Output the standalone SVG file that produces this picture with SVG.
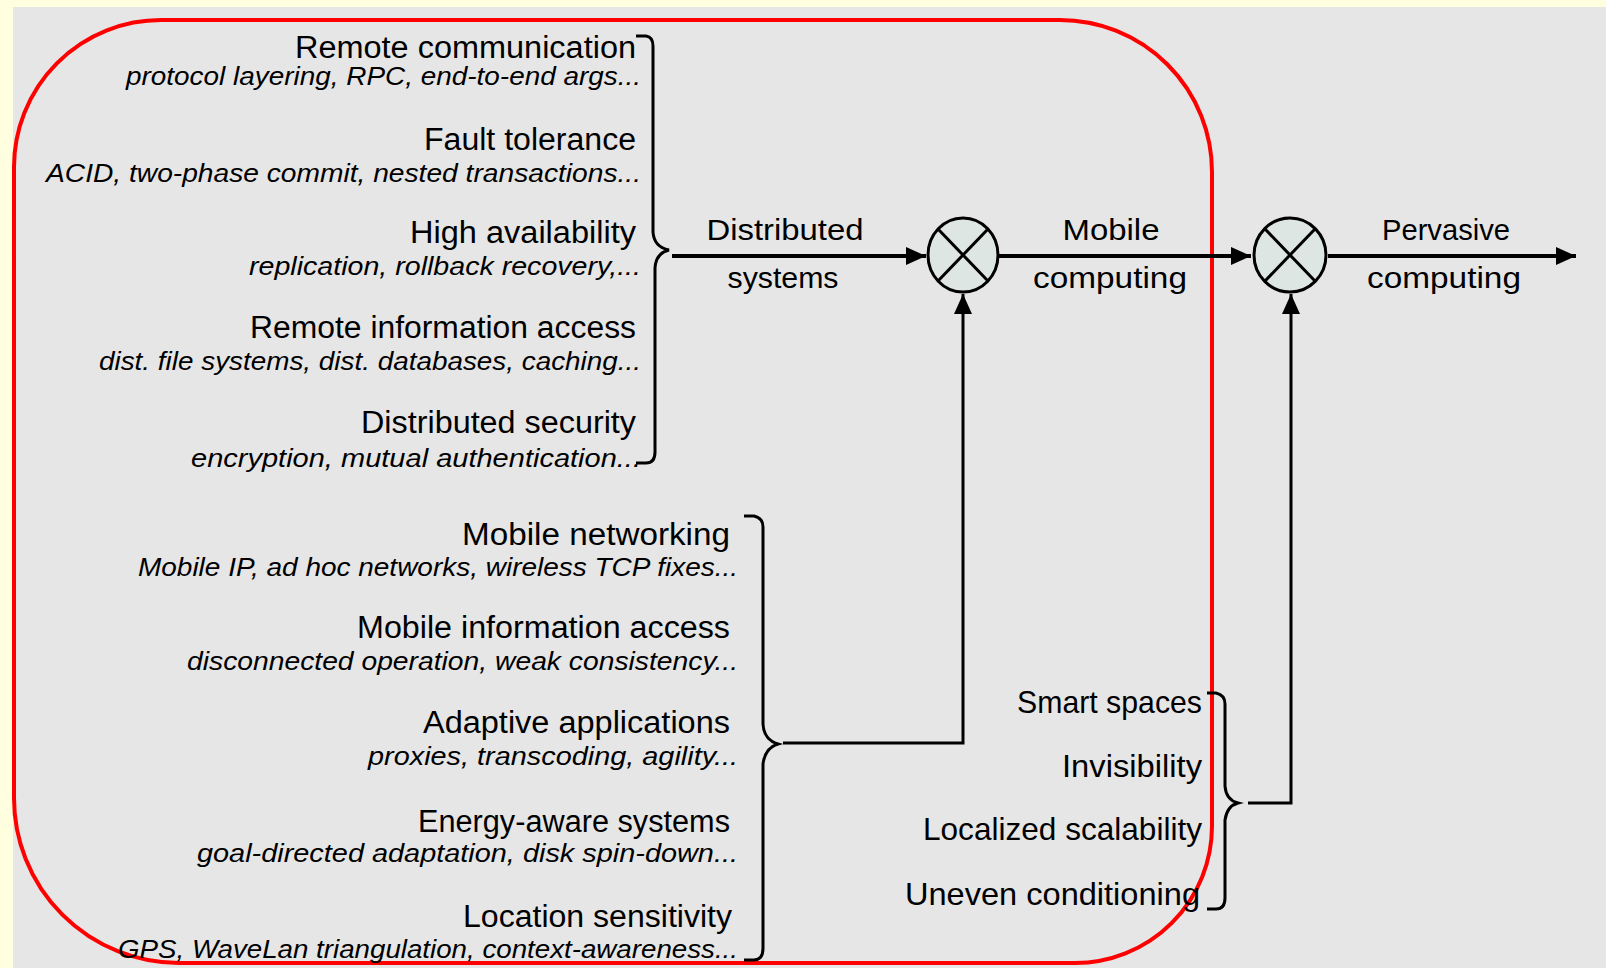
<svg xmlns="http://www.w3.org/2000/svg" width="1606" height="968" viewBox="0 0 1606 968">
<defs>
<style>
.lbl{font-family:"Liberation Sans",Arial,sans-serif;font-size:31px;fill:#000;text-anchor:end}
.lbl3{font-family:"Liberation Sans",Arial,sans-serif;font-size:32px;fill:#000;text-anchor:end}
.sub{font-family:"Liberation Sans",Arial,sans-serif;font-size:25px;font-style:italic;fill:#000;text-anchor:end}
.flow{font-family:"Liberation Sans",Arial,sans-serif;font-size:29px;fill:#000;text-anchor:middle}
.brace{fill:none;stroke:#000;stroke-width:3;stroke-linejoin:miter}
.main{fill:none;stroke:#000;stroke-width:4}
.feed{fill:none;stroke:#000;stroke-width:3}
.sum{fill:#dde6e3;stroke:#000;stroke-width:3}
.x{stroke:#000;stroke-width:3}
</style>
<marker id="ah" viewBox="0 0 20 18" refX="20" refY="9" markerWidth="20" markerHeight="18" markerUnits="userSpaceOnUse" orient="auto">
<path d="M0,0 L20,9 L0,18 Z" fill="#000"/>
</marker>
</defs>
<rect x="0" y="0" width="1606" height="968" fill="#ffffe0"/>
<rect x="13" y="7" width="1593" height="961" fill="#e6e6e6"/>
<path id="frame" d="M161,20 L1060,20 A152,152 0 0 1 1212,172 L1212,826 A137,137 0 0 1 1075,963 L179,963 A165,165 0 0 1 14,798 L14,167 A147,147 0 0 1 161,20 Z" fill="none" stroke="#ff0000" stroke-width="4"/>

<g id="connectors">
<path class="brace" d="M636,36 L646,36 Q653,37 653,46 L653,232 Q654,247 669,250 Q656,253 655,268 L655,452 Q655,463 646,463 L636,463"/>
<path class="brace" d="M744,516 L754,516 Q763,518 763,527 L763,724 Q764,740 778,744 Q765,748 763,764 L763,948 Q763,960 754,960 L744,960"/>
<path class="brace" d="M1207,693 L1216,693 Q1225,695 1225,704 L1225,786 Q1226,800 1238,803 Q1227,806 1225,820 L1225,898 Q1225,909 1216,909 L1207,909"/>
<line class="main" x1="672" y1="256" x2="926" y2="256" marker-end="url(#ah)"/>
<line class="main" x1="998" y1="256" x2="1251" y2="256" marker-end="url(#ah)"/>
<line class="main" x1="1328" y1="256" x2="1576" y2="256" marker-end="url(#ah)"/>
<polyline class="feed" points="783,743 963,743 963,294" marker-end="url(#ah)"/>
<polyline class="feed" points="1248,803 1291,803 1291,294" marker-end="url(#ah)"/>
</g>

<g id="sum1">
<ellipse class="sum" cx="963" cy="255" rx="35" ry="37"/>
<line class="x" x1="938" y1="229" x2="988" y2="281"/>
<line class="x" x1="988" y1="229" x2="938" y2="281"/>
</g>
<g id="sum2">
<ellipse class="sum" cx="1290" cy="255" rx="36" ry="37"/>
<line class="x" x1="1265" y1="229" x2="1315" y2="281"/>
<line class="x" x1="1315" y1="229" x2="1265" y2="281"/>
</g>

<g id="flow-labels">
<text class="flow" x="785" y="240" textLength="157" lengthAdjust="spacingAndGlyphs">Distributed</text>
<text class="flow" x="783" y="288" textLength="111" lengthAdjust="spacingAndGlyphs">systems</text>
<text class="flow" x="1111" y="240" textLength="97" lengthAdjust="spacingAndGlyphs">Mobile</text>
<text class="flow" x="1110" y="288" textLength="154" lengthAdjust="spacingAndGlyphs">computing</text>
<text class="flow" x="1446" y="240" textLength="128" lengthAdjust="spacingAndGlyphs">Pervasive</text>
<text class="flow" x="1444" y="288" textLength="154" lengthAdjust="spacingAndGlyphs">computing</text>
</g>

<g id="remote-communication">
<text class="lbl" x="636" y="58" textLength="341" lengthAdjust="spacingAndGlyphs">Remote communication</text>
<text class="sub" x="641" y="85" textLength="515" lengthAdjust="spacingAndGlyphs">protocol layering, RPC, end-to-end args...</text>
</g>
<g id="fault-tolerance">
<text class="lbl" x="636" y="150" textLength="212" lengthAdjust="spacingAndGlyphs">Fault tolerance</text>
<text class="sub" x="641" y="182" textLength="595" lengthAdjust="spacingAndGlyphs">ACID, two-phase commit, nested transactions...</text>
</g>
<g id="high-availability">
<text class="lbl" x="636" y="243" textLength="226" lengthAdjust="spacingAndGlyphs">High availability</text>
<text class="sub" x="641" y="275" textLength="392" lengthAdjust="spacingAndGlyphs">replication, rollback recovery,...</text>
</g>
<g id="remote-information-access">
<text class="lbl" x="636" y="338" textLength="386" lengthAdjust="spacingAndGlyphs">Remote information access</text>
<text class="sub" x="641" y="370" textLength="542" lengthAdjust="spacingAndGlyphs">dist. file systems, dist. databases, caching...</text>
</g>
<g id="distributed-security">
<text class="lbl" x="636" y="433" textLength="275" lengthAdjust="spacingAndGlyphs">Distributed security</text>
<text class="sub" x="641" y="467" textLength="450" lengthAdjust="spacingAndGlyphs">encryption, mutual authentication...</text>
</g>

<g id="mobile-networking">
<text class="lbl" x="730" y="545" textLength="268" lengthAdjust="spacingAndGlyphs">Mobile networking</text>
<text class="sub" x="738" y="576" textLength="600" lengthAdjust="spacingAndGlyphs">Mobile IP, ad hoc networks, wireless TCP fixes...</text>
</g>
<g id="mobile-information-access">
<text class="lbl" x="730" y="638" textLength="373" lengthAdjust="spacingAndGlyphs">Mobile information access</text>
<text class="sub" x="738" y="670" textLength="551" lengthAdjust="spacingAndGlyphs">disconnected operation, weak consistency...</text>
</g>
<g id="adaptive-applications">
<text class="lbl" x="730" y="733" textLength="307" lengthAdjust="spacingAndGlyphs">Adaptive applications</text>
<text class="sub" x="738" y="765" textLength="370" lengthAdjust="spacingAndGlyphs">proxies, transcoding, agility...</text>
</g>
<g id="energy-aware-systems">
<text class="lbl" x="730" y="832" textLength="312" lengthAdjust="spacingAndGlyphs">Energy-aware systems</text>
<text class="sub" x="738" y="862" textLength="541" lengthAdjust="spacingAndGlyphs">goal-directed adaptation, disk spin-down...</text>
</g>
<g id="location-sensitivity">
<text class="lbl" x="732" y="927" textLength="269" lengthAdjust="spacingAndGlyphs">Location sensitivity</text>
<text class="sub" x="738" y="958" textLength="620" lengthAdjust="spacingAndGlyphs">GPS, WaveLan triangulation, context-awareness...</text>
</g>

<g id="smart-spaces"><text class="lbl3" x="1202" y="713" textLength="185" lengthAdjust="spacingAndGlyphs">Smart spaces</text></g>
<g id="invisibility"><text class="lbl3" x="1202" y="777" textLength="140" lengthAdjust="spacingAndGlyphs">Invisibility</text></g>
<g id="localized-scalability"><text class="lbl3" x="1202" y="840" textLength="279" lengthAdjust="spacingAndGlyphs">Localized scalability</text></g>
<g id="uneven-conditioning"><text class="lbl3" x="1200" y="905" textLength="295" lengthAdjust="spacingAndGlyphs">Uneven conditioning</text></g>
</svg>
